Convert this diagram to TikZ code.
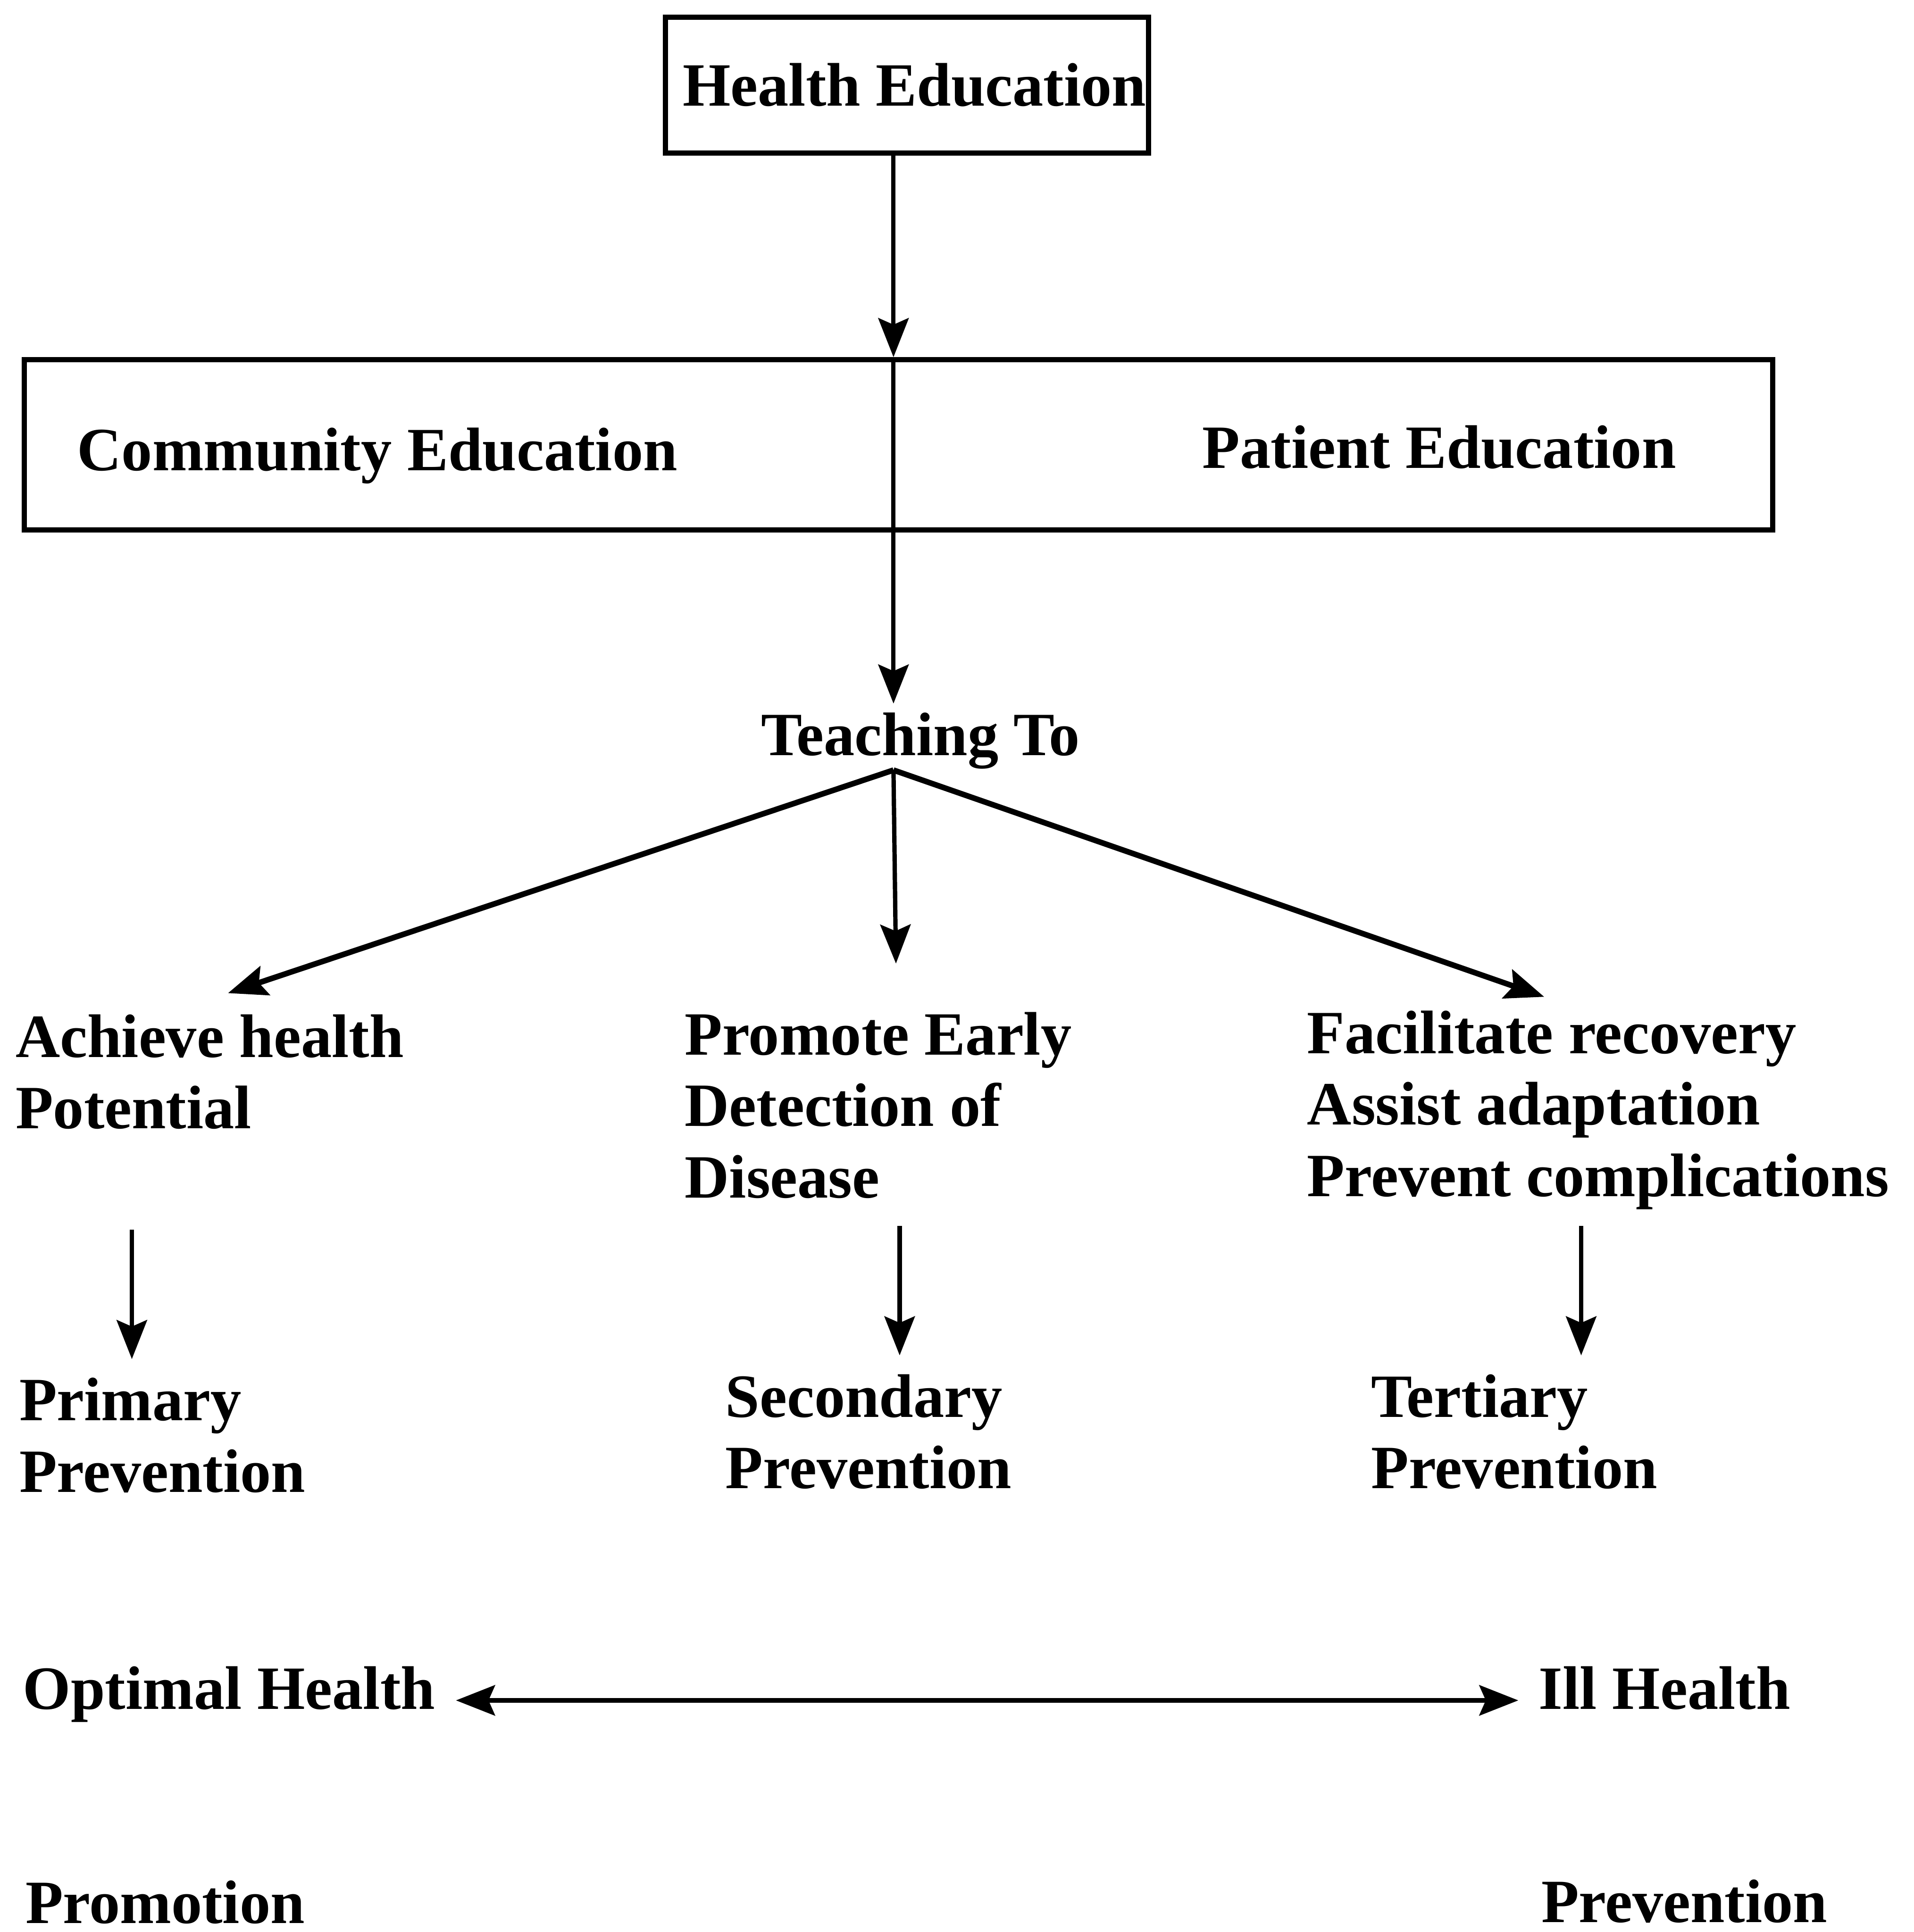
\documentclass[tikz,border=0pt]{standalone}
\usepackage{fontspec}
\setmainfont{Liberation Serif}
\usetikzlibrary{arrows.meta}
\begin{document}
\begin{tikzpicture}[x=0.01cm,y=-0.01cm,
  every node/.style={font=\bfseries\fontsize{14.2}{16.5}\selectfont, inner sep=0pt},
  lbl/.style={anchor=base west, align=left},
  boxnode/.style={draw, line width=1.2pt, inner sep=0pt},
  arr/.style={line width=1pt, -{Stealth[length=9pt,width=7pt,inset=1.5pt]}},
  darr/.style={line width=1pt, {Stealth[length=9pt,width=7pt,inset=1.5pt]}-{Stealth[length=9pt,width=7pt,inset=1.5pt]}},
  plain/.style={line width=1pt}]
\useasboundingbox (0,0) rectangle (1553,1568);

% top box
\node[boxnode, minimum width=3.92cm, minimum height=1.10cm] (he) at (736,69) {};
\node[anchor=base] (het) at (742,86) {Health Education};

% education box
\node[boxnode, minimum width=14.18cm, minimum height=1.38cm] (ed) at (729,361) {};
\node[lbl] (ce) at (62,382) {Community Education};
\node[lbl] (pe) at (975,380) {Patient Education};

\coordinate (xm) at (725,0);
\draw[arr] (he.south -| xm) -- (ed.north -| xm);
\draw[plain] (ed.north -| xm) -- (ed.south -| xm);

% Teaching To
\node[anchor=base] (tt) at (747,613) {Teaching To};
\coordinate (ttop) at (725,571);
\draw[arr] (ed.south -| xm) -- (ttop);
\coordinate (fork) at (725,625);

% three goals (base = last line)
\node[lbl] (g1) at (12,916) {Achieve health\\Potential};
\node[lbl] (g2) at (555,972) {Promote Early\\Detection of\\Disease};
\node[lbl] (g3) at (1060,971) {Facilitate recovery\\Assist adaptation\\Prevent complications};
\coordinate (g1a) at (185,806);
\coordinate (g2a) at (727,782);
\coordinate (g3a) at (1253,809);
\draw[arr, line width=1.3pt] (fork) -- (g1a);
\draw[arr] (fork) -- (g2a);
\draw[arr, line width=1.3pt] (fork) -- (g3a);

% prevention levels
\node[lbl] (p1) at (15,1211) {Primary\\Prevention};
\node[lbl] (p2) at (588,1208) {Secondary\\Prevention};
\node[lbl] (p3) at (1112,1208) {Tertiary\\Prevention};
\coordinate (a1s) at (107,998);  \coordinate (a1e) at (107,1103);
\coordinate (a2s) at (730,995);  \coordinate (a2e) at (730,1100);
\coordinate (a3s) at (1283,995); \coordinate (a3e) at (1283,1100);
\draw[arr] (a1s) -- (a1e);
\draw[arr] (a2s) -- (a2e);
\draw[arr] (a3s) -- (a3e);

% continuum
\node[lbl] (oh) at (18,1387) {Optimal Health};
\node[lbl] (ih) at (1248,1387) {Ill Health};
\coordinate (dl) at (370,1380);
\coordinate (dr) at (1232,1380);
\draw[darr] (dl) -- (dr);

\node[lbl] (pr) at (20,1561) {Promotion};
\node[lbl] (pv) at (1250,1560) {Prevention};
\end{tikzpicture}
\end{document}
